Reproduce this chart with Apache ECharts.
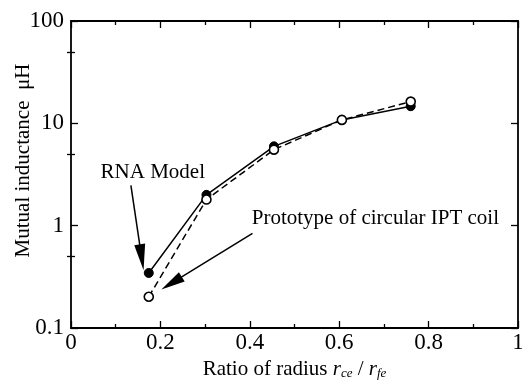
<!DOCTYPE html>
<html><head><meta charset="utf-8">
<script src="https://cdn.jsdelivr.net/npm/echarts@6/dist/echarts.min.js"></script>
<style>html,body{margin:0;padding:0;background:#fff}#c{width:522px;height:381px}</style>
</head><body><div id="c"></div>
<script>
// Data
var ratio = [0.174, 0.303, 0.454, 0.606, 0.760];
var rnaModel = [0.345, 2.0, 5.96, 10.8, 14.7];
var prototypeCoil = [0.202, 1.80, 5.53, 10.8, 16.3];
var yMajorTicks = [0.1, 1, 10, 100];
var yMinorTicks = [0.5, 5, 50];
// Annotations (data coordinates)
var rnaLabelPos = [0.183, 3.30];
var rnaArrow = [[0.134, 2.47], [0.158, 0.491]];
var protoLabelPos = [0.681, 1.18];
var protoArrow = [[0.406, 0.841], [0.225, 0.274]];

var FONT = '"Liberation Serif","Times New Roman",serif';
var chart = echarts.init(document.getElementById('c'));

function pairs(xs, ys){ return xs.map(function(x,i){return [x, ys[i]];}); }

var xBase = {
  type:'value', min:0, max:1, interval:0.2, gridIndex:0,
  axisLine:{show:true, onZero:false, lineStyle:{color:'#000', width:1.8}},
  axisTick:{show:true, inside:true, length:7, lineStyle:{color:'#000', width:1.3}},
  minorTick:{show:true, splitNumber:2, length:4, lineStyle:{color:'#000', width:1.3}},
  splitLine:{show:false}
};
var yBase = {
  type:'log', logBase:10, min:0.1, max:100,
  axisLine:{show:true, onZero:false, lineStyle:{color:'#000', width:1.8}},
  splitLine:{show:false}
};

var option = {
  animation:false,
  backgroundColor:'#fff',
  grid:{left:71, right:4, top:21, bottom:53, containLabel:false, outerBoundsMode:'none'},
  xAxis:[
    Object.assign({}, xBase, {
      position:'bottom',
      name:'Ratio of radius {i|r}{s|ce}{n| / }{i|r}{s|fe}',
      nameLocation:'middle', nameGap:31, nameMoveOverlap:false,
      nameTextStyle:{fontFamily:FONT, fontSize:21, color:'#000',
        rich:{i:{fontFamily:FONT, fontSize:21, fontStyle:'italic', color:'#000'},
              s:{fontFamily:FONT, fontSize:13, fontStyle:'italic', color:'#000', verticalAlign:'bottom', padding:[8,0,0,0]},
              n:{fontFamily:FONT, fontSize:21, color:'#000'}}},
      axisLabel:{show:true, margin:3, fontFamily:FONT, fontSize:23, color:'#000',
        formatter:function(v){ return v===0?'0':(v===1?'1':v.toFixed(1)); }}
    }),
    Object.assign({}, xBase, {position:'top', axisLabel:{show:false}})
  ],
  yAxis:[
    Object.assign({}, yBase, {
      position:'left',
      name:'Mutual inductance  μH', nameLocation:'middle', nameGap:37, nameMoveOverlap:false,
      nameTextStyle:{fontFamily:FONT, fontSize:21, color:'#000', padding:[0,0,0,28]},
      axisTick:{show:true, inside:true, length:7, customValues:yMajorTicks, lineStyle:{color:'#000', width:1.3}},
      axisLabel:{show:true, margin:7, fontFamily:FONT, fontSize:23, color:'#000', customValues:yMajorTicks,
        formatter:function(v){ return String(v); }}
    }),
    Object.assign({}, yBase, {
      position:'left', axisLine:{show:false},
      axisTick:{show:true, inside:true, length:4, customValues:yMinorTicks, lineStyle:{color:'#000', width:1.3}},
      axisLabel:{show:false}
    }),
    Object.assign({}, yBase, {
      position:'right',
      axisTick:{show:true, inside:true, length:7, customValues:yMajorTicks, lineStyle:{color:'#000', width:1.3}},
      axisLabel:{show:false}
    }),
    Object.assign({}, yBase, {
      position:'right', axisLine:{show:false},
      axisTick:{show:true, inside:true, length:4, customValues:yMinorTicks, lineStyle:{color:'#000', width:1.3}},
      axisLabel:{show:false}
    })
  ],
  series:[
    {
      name:'RNA Model', type:'line', data:pairs(ratio, rnaModel),
      symbol:'circle', symbolSize:9,
      lineStyle:{color:'#000', width:1.5},
      itemStyle:{color:'#000', borderColor:'#000', borderWidth:1},
      z:2,
      markLine:{
        silent:true, animation:false,
        lineStyle:{color:'#000', width:1.5, type:'solid'},
        label:{show:false},
        data:[[
          {coord:rnaArrow[0], symbol:'none'},
          {coord:rnaArrow[1], symbol:'triangle', symbolSize:[11,26]}
        ],[
          {coord:protoArrow[0], symbol:'none'},
          {coord:protoArrow[1], symbol:'triangle', symbolSize:[11,24]}
        ]]
      },
      markPoint:{
        silent:true, animation:false, symbol:'circle', symbolSize:0,
        label:{show:true, position:'inside', fontFamily:FONT, fontSize:21, color:'#000'},
        data:[
          {coord:rnaLabelPos, value:'RNA Model', label:{formatter:'RNA Model'}},
          {coord:protoLabelPos, value:'p', label:{formatter:'Prototype of circular IPT coil'}}
        ]
      }
    },
    {
      name:'Prototype of circular IPT coil', type:'line', data:pairs(ratio, prototypeCoil),
      symbol:'circle', symbolSize:9,
      lineStyle:{color:'#000', width:1.5, type:[7,4]},
      itemStyle:{color:'#fff', borderColor:'#000', borderWidth:1.6},
      z:3
    }
  ]
};
chart.setOption(option);
</script>
</body></html>
